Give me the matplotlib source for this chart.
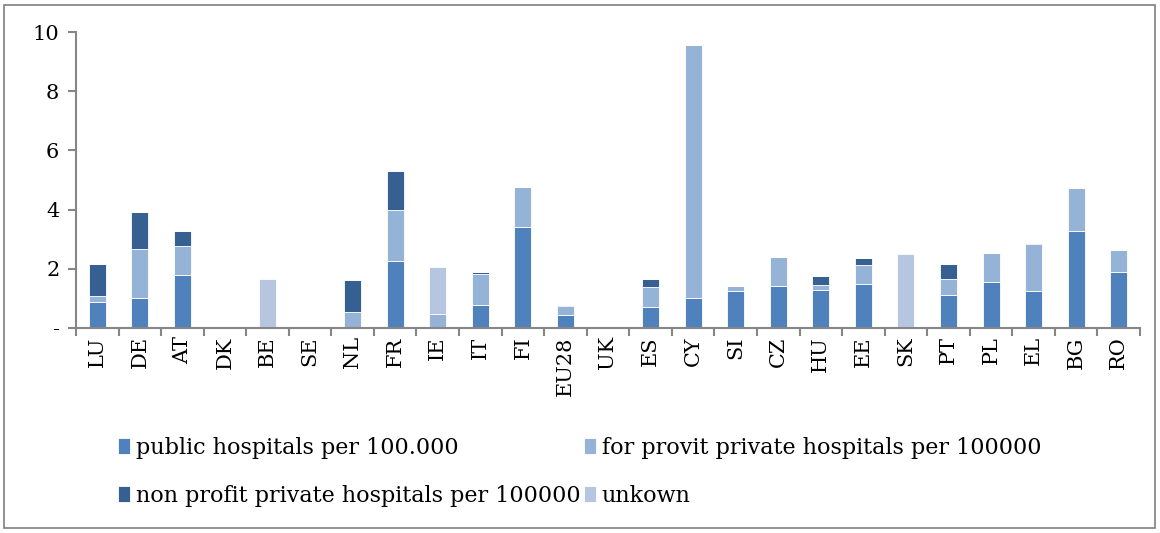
import matplotlib.pyplot as plt
import numpy as np
from matplotlib.patches import Rectangle

# Hospitals per 100 000 inhabitants, by ownership
countries = ["LU", "DE", "AT", "DK", "BE", "SE", "NL", "FR", "IE", "IT", "FI", "EU28", "UK",
             "ES", "CY", "SI", "CZ", "HU", "EE", "SK", "PT", "PL", "EL", "BG", "RO"]
public = [0.89, 1.01, 1.79, 0, 0, 0, 0, 2.27, 0, 0.79, 3.41, 0.44, 0,
          0.71, 1.02, 1.25, 1.42, 1.30, 1.49, 0, 1.13, 1.54, 1.25, 3.29, 1.90]
for_profit = [0.19, 1.67, 0.98, 0, 0, 0, 0.53, 1.73, 0.48, 1.05, 1.34, 0.30, 0,
              0.67, 8.53, 0.16, 0.97, 0.14, 0.63, 0, 0.51, 1.00, 1.59, 1.44, 0.72]
non_profit = [1.09, 1.25, 0.50, 0, 0, 0, 1.09, 1.29, 0, 0.05, 0, 0.04, 0,
              0.27, 0, 0, 0.02, 0.31, 0.23, 0, 0.51, 0, 0.03, 0, 0.02]
unknown = [0, 0, 0, 0, 1.66, 0, 0, 0, 1.57, 0, 0, 0, 0,
           0, 0, 0, 0, 0, 0, 2.50, 0, 0, 0, 0, 0]

series_labels = ["public hospitals per 100.000",
                 "for provit private hospitals per 100000",
                 "non profit private hospitals per 100000",
                 "unkown"]
colors = ["#4F81BD", "#95B3D7", "#366092", "#B7C6E0"]

plt.rcParams["font.family"] = ["DejaVu Serif"]

fig = plt.figure(figsize=(11.6, 5.33), dpi=100)
ax = fig.add_axes([76 / 1160, 1 - 328 / 533, 1064 / 1160, 296 / 533])

x = np.arange(len(countries))
bottom = np.zeros(len(countries))
handles = []
for vals, lab, col in zip([public, for_profit, non_profit, unknown], series_labels, colors):
    vals = np.array(vals)
    h = ax.bar(x, vals, width=0.4, bottom=bottom, color=col, label=lab,
               edgecolor="white", linewidth=0.6)
    handles.append(h)
    bottom += vals

ax.set_xlim(-0.5, len(countries) - 0.5)
ax.set_ylim(0, 10)
ax.set_yticks([0, 2, 4, 6, 8, 10])
ax.set_yticklabels(["-", "2", "4", "6", "8", "10"], fontsize=15)

ax.set_xticks(x)
ax.set_xticklabels(countries, rotation=90, fontsize=15)
ax.tick_params(axis="x", length=0, pad=6)
ax.set_xticks(np.arange(-0.5, len(countries)), minor=True)
ax.tick_params(axis="x", which="minor", length=6, color="#868686", width=1.5)
ax.tick_params(axis="y", length=6, color="#868686", width=1.5, pad=6)

for s in ["top", "right"]:
    ax.spines[s].set_visible(False)
for s in ["left", "bottom"]:
    ax.spines[s].set_color("#868686")
    ax.spines[s].set_linewidth(1.5)

order = [0, 2, 1, 3]
fig.legend([handles[i] for i in order], [series_labels[i] for i in order],
           ncol=2, loc="upper left", bbox_to_anchor=(98 / 1160, 1 - 417 / 533),
           frameon=False, fontsize=16, handlelength=0.55, handleheight=0.75,
           handletextpad=0.25, columnspacing=0.15, labelspacing=1.15)

fig.patches.append(Rectangle((4 / 1160, 5 / 533), 1151 / 1160, 523 / 533,
                             transform=fig.transFigure, fill=False,
                             edgecolor="#7f7f7f", linewidth=1.2))

fig.savefig("out.png", dpi=100)
